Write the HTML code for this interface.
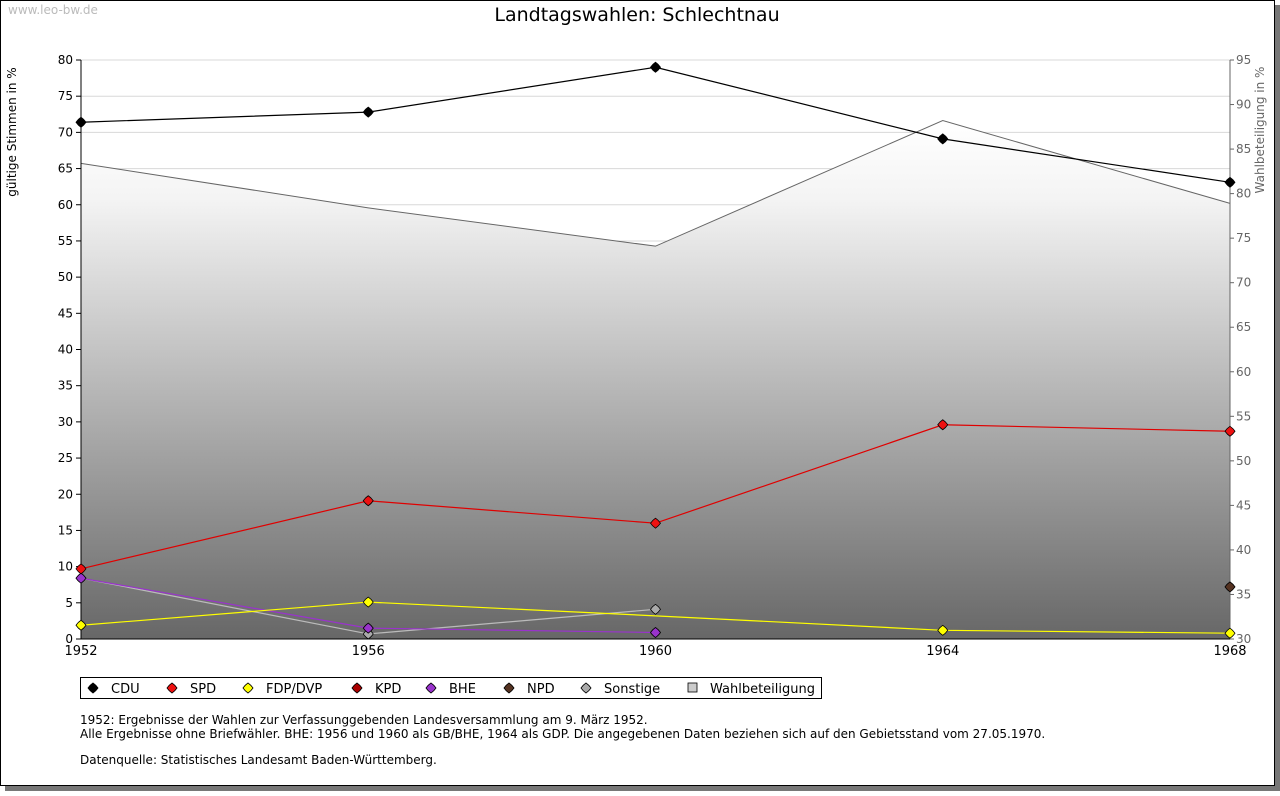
<!DOCTYPE html>
<html><head><meta charset="utf-8"><style>
body{margin:0;background:#fff;width:1280px;height:791px;overflow:hidden;font-family:"Liberation Sans","DejaVu Sans",sans-serif}
svg text{font-family:"DejaVu Sans","Liberation Sans",sans-serif}
</style></head><body>
<svg id="c" width="1280" height="791">
<defs><linearGradient id="g" x1="0" y1="0" x2="0" y2="1">
<stop offset="0" stop-color="#ffffff"/><stop offset="0.15" stop-color="#f4f4f4"/><stop offset="1" stop-color="#676767"/></linearGradient></defs>
<rect x="5" y="5" width="1275" height="786" fill="#777"/>
<rect x="0.5" y="0.5" width="1274" height="785" fill="#fff" stroke="#000"/>
<text x="8" y="14" font-size="12" fill="#bbb">www.leo-bw.de</text>
<text x="637" y="21" font-size="19" text-anchor="middle">Landtagswahlen: Schlechtnau</text>
<text transform="translate(16,132) rotate(-90)" font-size="12" text-anchor="middle">gültige Stimmen in %</text>
<text transform="translate(1264,130) rotate(-90)" font-size="12" fill="#666" text-anchor="middle">Wahlbeteiligung in %</text>
<g id="plot"></g>
<g>
<rect x="80.5" y="677.5" width="741" height="21" fill="#fff" stroke="#000"/>
<g id="leg"></g></g>
<text font-size="12"><tspan x="80" y="724">1952: Ergebnisse der Wahlen zur Verfassunggebenden Landesversammlung am 9. März 1952.</tspan><tspan x="80" y="738">Alle Ergebnisse ohne Briefwähler. BHE: 1956 und 1960 als GB/BHE, 1964 als GDP. Die angegebenen Daten beziehen sich auf den Gebietsstand vom 27.05.1970.</tspan><tspan x="80" y="764">Datenquelle: Statistisches Landesamt Baden-Württemberg.</tspan></text>
</svg>
<script>
const years=[1952,1956,1960,1964,1968];
const cdu=[71.4,72.8,79.0,69.1,63.1];
const spd=[9.7,19.1,16.0,29.6,28.7];
const fdp=[1.9,5.1,3.2,1.2,0.8];
const fdpMarker=[true,true,false,true,true];
const kpd=[null,null,null,null,null];
const bhe=[8.4,1.5,0.9,null,null];
const npd=[null,null,null,null,7.2];
const sonst=[8.4,0.7,4.1,null,null];
const turnout=[83.4,78.4,74.1,88.2,78.9];
const leftTicks=[0,5,10,15,20,25,30,35,40,45,50,55,60,65,70,75,80];
const rightTicks=[30,35,40,45,50,55,60,65,70,75,80,85,90,95];
const X0=81,X1=1230,Y0=639,Y1=60;
const xs=y=>X0+(y-1952)/(1968-1952)*(X1-X0);
const yl=v=>Y0-v/80*(Y0-Y1);
const yr=v=>Y0-(v-30)/65*(Y0-Y1);
const NS='http://www.w3.org/2000/svg';
const plot=document.getElementById('plot');
function mk(t,a,p){const e=document.createElementNS(NS,t);for(const k in a)e.setAttribute(k,a[k]);(p||plot).appendChild(e);return e;}
// grid (behind area)
leftTicks.forEach(v=>{if(v>0){const l=mk('line',{x1:X0,x2:X1,y1:yl(v),y2:yl(v),stroke:'#d8d8d8'});

}});
// turnout area
let d='M'+X0+','+Y0;years.forEach((y,i)=>d+=' L'+xs(y)+','+yr(turnout[i]));d+=' L'+X1+','+Y0+'Z';
const area=mk('path',{d:d,fill:'url(#g)'});


leftTicks.forEach(v=>{
const t=mk('text',{x:X0-8,y:yl(v)+4,'font-size':12,'text-anchor':'end'});t.textContent=v;


mk('line',{x1:X0-5,x2:X0,y1:yl(v),y2:yl(v),stroke:'#000'});});
rightTicks.forEach(v=>{const t=mk('text',{x:X1+6,y:yr(v)+4,'font-size':12,fill:'#666'});t.textContent=v;


mk('line',{x1:X1,x2:X1+4,y1:yr(v),y2:yr(v),stroke:'#666'});});
let td='';years.forEach((y,i)=>td+=(i?' L':'M')+xs(y)+','+yr(turnout[i]));
const tl=mk('path',{d:td,fill:'none',stroke:'#666'});


mk('line',{x1:X0,x2:X0,y1:Y1,y2:Y0,stroke:'#000'});
mk('line',{x1:X1,x2:X1,y1:Y1,y2:Y0,stroke:'#666'});
mk('line',{x1:X0,x2:X1,y1:Y0,y2:Y0,stroke:'#000'});
years.forEach(y=>{const t=mk('text',{x:xs(y),y:Y0+16,'font-size':13,'text-anchor':'middle'});t.textContent=y;

});
const series=[['cdu',cdu,'#000','#000'],['sonstige',sonst,'#bbb','#aaa'],['bhe',bhe,'#9933cc','#9933cc'],['fdp',fdp,'#ffff00','#ffff00'],['spd',spd,'#e00000','#ee1111'],['kpd',kpd,'#aa0000','#aa0000'],['npd',npd,'#553322','#553322']];
function dia(x,y,fill,p){return mk('path',{d:`M${x},${y-5}Q${x+3},${y-3} ${x+5},${y}Q${x+3},${y+3} ${x},${y+5}Q${x-3},${y+3} ${x-5},${y}Q${x-3},${y-3} ${x},${y-5}Z`,fill:fill,stroke:'#000','stroke-width':0.8},p);}
series.forEach(([n,a,lc,mc])=>{let pd='';let prev=false;years.forEach((y,i)=>{if(a[i]==null){prev=false;return;}pd+=(prev?' L':' M')+xs(y)+','+yl(a[i]);prev=true;});
if(pd){const l=mk('path',{d:pd,fill:'none',stroke:lc,'stroke-width':1.2});

}
years.forEach((y,i)=>{if(a[i]==null)return;if(n==='fdp'&&!fdpMarker[i])return;const m=dia(xs(y),yl(a[i]),mc);

});});
const leg=document.getElementById('leg');
const li=[['CDU','#000',93],['SPD','#ee1111',172],['FDP/DVP','#ffff00',248],['KPD','#aa0000',357],['BHE','#9933cc',431],['NPD','#553322',509],['Sonstige','#aaaaaa',586]];
li.forEach(([n,c,x])=>{dia(x,688,c,leg);const t=mk('text',{x:x+18,y:693,'font-size':13},leg);t.textContent=n;

});
mk('rect',{x:688,y:683,width:9,height:9,fill:'#ccc',stroke:'#000','stroke-width':0.8},leg);
const tw=mk('text',{x:710,y:693,'font-size':13},leg);tw.textContent='Wahlbeteiligung';


</script>
</body></html>
